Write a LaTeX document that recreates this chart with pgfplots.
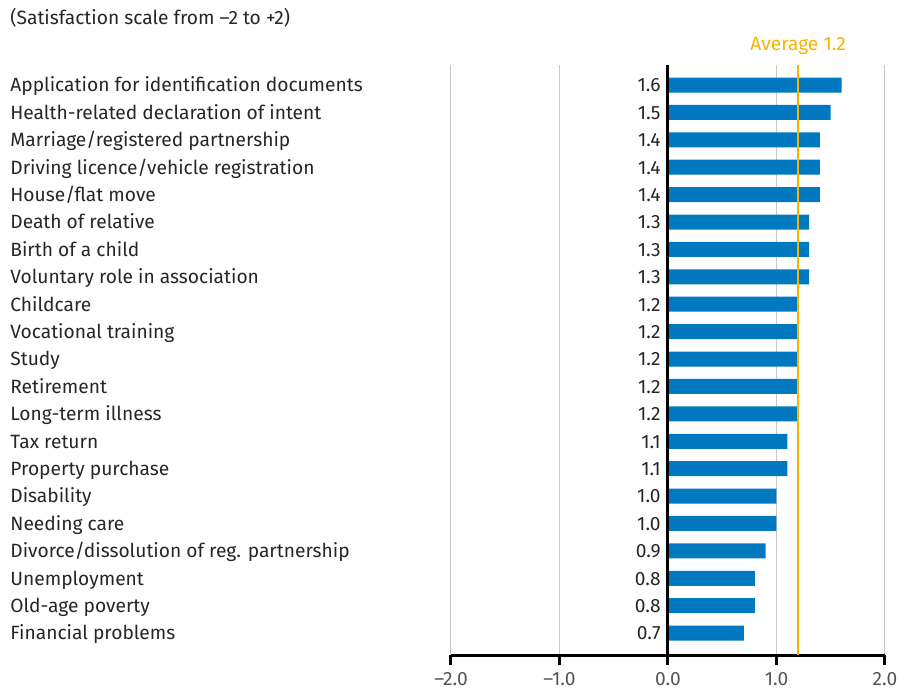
\documentclass[border=0pt]{standalone}
\usepackage{fontspec}
\setmainfont{Fira Sans}
\usepackage{pgfplots}
\usepackage{pgfplotstable}
\pgfplotsset{compat=1.18}
\definecolor{barblue}{HTML}{0079C0}
\definecolor{avggold}{HTML}{F5B400}
\definecolor{txt}{HTML}{262626}
\definecolor{ticktxt}{HTML}{555555}
\definecolor{gridgray}{HTML}{C8C8C8}
\newcommand{\fs}{\fontsize{9.6}{11.5}\selectfont}
\pgfplotstableread[col sep=comma]{
i,v
0,1.6
1,1.5
2,1.4
3,1.4
4,1.4
5,1.3
6,1.3
7,1.3
8,1.2
9,1.2
10,1.2
11,1.2
12,1.2
13,1.1
14,1.1
15,1.0
16,1.0
17,0.9
18,0.8
19,0.8
20,0.7
}\data
\begin{document}
\begin{tikzpicture}[x=1pt,y=1pt]
\useasboundingbox (0,0) rectangle (450,345);
\node[anchor=west, text=txt, font=\fs, inner sep=0] at (5,336) {(Satisfaction scale from –2 to +2)};
\begin{axis}[
  at={(225.5pt,17.5pt)}, anchor=south west,
  scale only axis, width=217pt, height=295pt,
  xmin=-2, xmax=2, ymin=-0.73, ymax=20.8, y dir=reverse,
  axis x line*=bottom, axis y line*=left,
  x axis line style={black, line width=1.5pt, -},
  y axis line style={draw=none},
  xtick={-2,-1,0,1,2},
  xticklabels={–2.0,–1.0,0.0,1.0,2.0},
  x tick style={black, line width=1.5pt},
  major tick length=5pt,
  tick align=outside,
  xmajorgrids, grid style={gridgray, line width=0.5pt},
  x tick label style={text=ticktxt, font=\fs, yshift=0pt},
  ytick={0,...,20},
  yticklabels={Application for identification documents,Health-related declaration of intent,Marriage/registered partnership,Driving licence/vehicle registration,House/flat move,Death of relative,Birth of a child,Voluntary role in association,Childcare,Vocational training,Study,Retirement,Long-term illness,Tax return,Property purchase,Disability,Needing care,Divorce/dissolution of reg. partnership,Unemployment,Old-age poverty,Financial problems},
  y tick style={draw=none},
  y tick label style={anchor=west, xshift=-215.5pt, yshift=-0.5pt, text=txt, font=\fs, inner sep=0pt, text height=1.45ex, text depth=0.35ex},
  clip=false,
]
\addplot[xbar, bar width=7.5pt, fill=barblue, draw=none] table[x=v, y=i]{\data};
\addplot[only marks, mark=none, point meta=\thisrow{v}, nodes near coords,
  nodes near coords style={anchor=east, xshift=-3.5pt, yshift=-0.5pt, inner sep=0pt, text=txt, font=\fs, text height=1.45ex, text depth=0.35ex,
    /pgf/number format/.cd, fixed, fixed zerofill, precision=1, assume math mode=true}]
  table[x expr=0, y=i]{\data};
\draw[black, line width=1.5pt] (axis cs:0,-0.73) -- (axis cs:0,20.8);
\addplot[avggold, line width=1pt, mark=none] coordinates {(1.2,-0.73) (1.2,20.8)};
\node[text=avggold, font=\fs, anchor=south, inner sep=0pt] at (axis cs:1.2,-1.1) {Average 1.2};
\end{axis}
\end{tikzpicture}
\end{document}
